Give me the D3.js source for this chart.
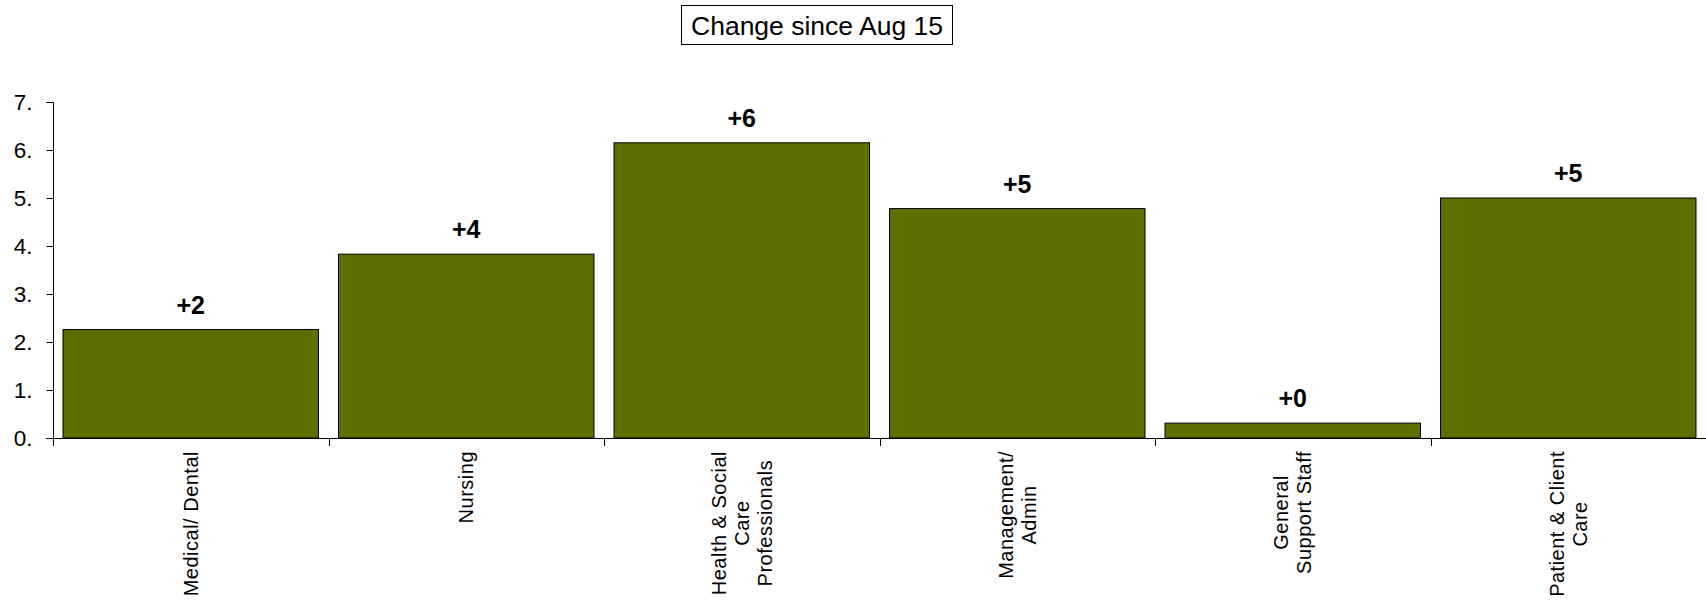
<!DOCTYPE html>
<html>
<head>
<meta charset="utf-8">
<script src="https://cdn.jsdelivr.net/npm/d3@7"></script>
<style>
  html, body { margin: 0; padding: 0; background: #fff; }
  svg { display: block; font-family: "Liberation Sans", Arial, sans-serif; }
</style>
</head>
<body>
<svg id="chart" width="1706" height="604"></svg>
<script>
const categories = [
  ["Medical/ Dental"],
  ["Nursing"],
  ["Health & Social", "Care", "Professionals"],
  ["Management/", "Admin"],
  ["General", "Support Staff"],
  ["Patient & Client", "Care"]
];
const values = [2.26, 3.83, 6.15, 4.78, 0.31, 5.0];
const valueLabels = ["+2", "+4", "+6", "+5", "+0", "+5"];
const yTicks = [0, 1, 2, 3, 4, 5, 6, 7];
const title = "Change since Aug 15";

const svg = d3.select("#chart");
const mLeft = 53, mRight = 1706, mTop = 102, mBottom = 438;

const x = d3.scaleBand()
  .domain(d3.range(categories.length))
  .range([mLeft, mRight])
  .paddingInner(0.0726)
  .paddingOuter(0.0363);
const y = d3.scaleLinear().domain([0, 7]).range([mBottom, mTop]);
const step = x.step();

// Title box
const tg = svg.append("g");
tg.append("rect").attr("x", 681.5).attr("y", 5.5).attr("width", 271).attr("height", 39)
  .attr("fill", "#fff").attr("stroke", "#000").attr("stroke-width", 1);
tg.append("text").attr("x", 817).attr("y", 35).attr("text-anchor", "middle")
  .attr("font-size", 26.5).attr("fill", "#000").text(title);

// Bars
svg.append("g").selectAll("rect").data(values).join("rect")
  .attr("x", (d, i) => x(i))
  .attr("y", d => y(d))
  .attr("width", x.bandwidth())
  .attr("height", d => y(0) - y(d))
  .attr("fill", "#5e6f00")
  .attr("stroke", "#000")
  .attr("stroke-width", 1);

// Value labels
svg.append("g").selectAll("text").data(values).join("text")
  .attr("x", (d, i) => x(i) + x.bandwidth() / 2)
  .attr("y", d => y(d) - 16)
  .attr("text-anchor", "middle")
  .attr("font-size", 25)
  .attr("font-weight", "bold")
  .attr("fill", "#000")
  .text((d, i) => valueLabels[i]);

// Y axis
const yAxis = d3.axisLeft(y).tickValues(yTicks).tickSize(7).tickPadding(14)
  .tickFormat(d => d + ".");
const yg = svg.append("g").attr("transform", `translate(${mLeft + 0.5},0)`).call(yAxis);
yg.select(".domain").attr("d", `M-7,${mTop + 0.5}H0V${mBottom + 8}`).attr("stroke", "#000");
yg.selectAll(".tick line").attr("stroke", "#000");
yg.selectAll(".tick text").attr("font-size", 22.5).attr("fill", "#000")
  .attr("font-family", "Liberation Sans, Arial, sans-serif");

// X axis (baseline + boundary ticks)
const xg = svg.append("g");
xg.append("line").attr("x1", mLeft - 7).attr("x2", mRight).attr("y1", mBottom + 0.5).attr("y2", mBottom + 0.5)
  .attr("stroke", "#000");
const boundaries = d3.range(categories.length + 1).map(i => mLeft + i * step);
xg.selectAll("line.bt").data(boundaries).join("line").attr("class", "bt")
  .attr("x1", d => Math.round(d) + 0.5).attr("x2", d => Math.round(d) + 0.5)
  .attr("y1", mBottom).attr("y2", mBottom + 8).attr("stroke", "#000");

// Category labels (rotated, multi-line, centered)
const fs = 20, lh = 23, labelTop = 451;
categories.forEach((lines, i) => {
  const cx = x(i) + x.bandwidth() / 2;
  const g = svg.append("g");
  const t = g.append("text").attr("font-size", fs).attr("letter-spacing", 0.5)
    .attr("fill", "#000").attr("text-anchor", "middle");
  lines.forEach((ln, j) => {
    t.append("tspan").attr("x", 0).attr("y", (j - (lines.length - 1) / 2) * lh + fs * 0.36).text(ln);
  });
  let maxLen = 0;
  t.selectAll("tspan").each(function() { maxLen = Math.max(maxLen, this.getComputedTextLength()); });
  g.attr("transform", `translate(${cx},${labelTop + maxLen / 2}) rotate(-90)`);
});
</script>
</body>
</html>
